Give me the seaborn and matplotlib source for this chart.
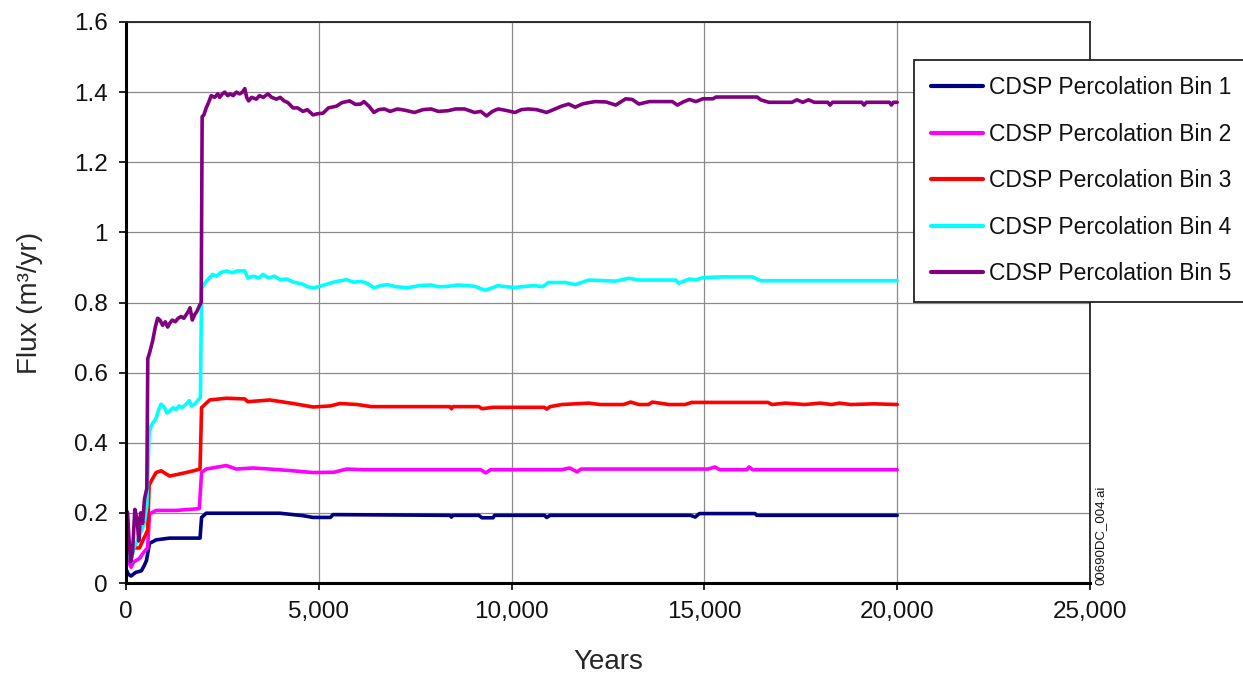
import matplotlib
matplotlib.use("Agg")
import matplotlib.pyplot as plt
from matplotlib.ticker import FuncFormatter
import pandas as pd
import seaborn as sns

# ---- data: (year, flux in m3/yr) for each percolation bin ----
series_labels = [f"CDSP Percolation Bin {i}" for i in range(1, 6)]
series_colors = ["#000080", "#FF00FF", "#FF0000", "#00FFFF", "#800080"]

bin1 = [(0, 0.04), (60, 0.025), (130, 0.02), (250, 0.03), (400, 0.035), (475, 0.05),
        (530, 0.064), (610, 0.113), (780, 0.123), (1130, 0.128), (1920, 0.128),
        (1960, 0.187), (2080, 0.199), (3990, 0.199), (4590, 0.192), (4850, 0.187),
        (5300, 0.187), (5370, 0.195), (8400, 0.193), (8440, 0.188), (8480, 0.193),
        (9150, 0.193), (9230, 0.186), (9520, 0.186), (9560, 0.193), (10850, 0.193),
        (10910, 0.187), (11000, 0.193), (14640, 0.193), (14760, 0.188), (14870, 0.198),
        (16310, 0.198), (16360, 0.193), (20000, 0.193)]

bin2 = [(0, 0.08), (70, 0.06), (130, 0.045), (200, 0.06), (350, 0.07), (475, 0.09),
        (560, 0.10), (610, 0.197), (780, 0.207), (1300, 0.207), (1900, 0.212),
        (1960, 0.315), (2080, 0.325), (2600, 0.335), (2860, 0.325), (3290, 0.328),
        (3730, 0.325), (4330, 0.32), (4850, 0.315), (5400, 0.316), (5720, 0.325),
        (6200, 0.323), (9200, 0.323), (9330, 0.314), (9450, 0.323), (11300, 0.323),
        (11500, 0.328), (11700, 0.317), (11800, 0.325), (15100, 0.325), (15270, 0.331),
        (15400, 0.323), (16100, 0.323), (16160, 0.331), (16250, 0.323), (20000, 0.323)]

bin3 = [(0, 0.11), (60, 0.09), (130, 0.07), (200, 0.10), (350, 0.10), (475, 0.13),
        (560, 0.15), (600, 0.28), (780, 0.315), (910, 0.32), (1130, 0.305),
        (1350, 0.31), (1560, 0.315), (1750, 0.32), (1920, 0.325), (1960, 0.50),
        (2170, 0.522), (2600, 0.527), (3080, 0.525), (3160, 0.517), (3730, 0.522),
        (4330, 0.512), (4850, 0.502), (5300, 0.505), (5550, 0.512), (6000, 0.509),
        (6360, 0.503), (8400, 0.503), (8440, 0.497), (8480, 0.503), (9150, 0.503),
        (9230, 0.497), (9520, 0.501), (10850, 0.501), (10910, 0.496), (11000, 0.503),
        (11300, 0.509), (12000, 0.513), (12300, 0.509), (12900, 0.509), (13090, 0.516),
        (13300, 0.509), (13550, 0.509), (13650, 0.516), (13900, 0.512), (14080, 0.509),
        (14500, 0.509), (14670, 0.515), (16650, 0.515), (16750, 0.509), (17100, 0.513),
        (17600, 0.509), (18000, 0.513), (18300, 0.509), (18500, 0.513), (18800, 0.509),
        (19400, 0.511), (20000, 0.509)]

bin4 = [(0, 0.14), (60, 0.09), (130, 0.06), (200, 0.10), (300, 0.12), (400, 0.15),
        (475, 0.17), (540, 0.22), (600, 0.43), (660, 0.45), (720, 0.46), (780, 0.47),
        (850, 0.495), (910, 0.51), (1000, 0.50), (1060, 0.485), (1130, 0.49),
        (1220, 0.50), (1300, 0.495), (1380, 0.505), (1450, 0.50), (1560, 0.51),
        (1640, 0.52), (1700, 0.505), (1780, 0.51), (1860, 0.52), (1930, 0.53),
        (1960, 0.84), (2020, 0.85), (2080, 0.86), (2160, 0.87), (2250, 0.88),
        (2350, 0.875), (2450, 0.885), (2600, 0.89), (2750, 0.885), (2900, 0.89),
        (3080, 0.89), (3160, 0.87), (3300, 0.875), (3450, 0.87), (3550, 0.88),
        (3700, 0.87), (3850, 0.875), (4000, 0.865), (4160, 0.867), (4350, 0.858),
        (4590, 0.852), (4700, 0.845), (4850, 0.842), (5000, 0.845), (5200, 0.852),
        (5450, 0.86), (5720, 0.865), (5900, 0.858), (6090, 0.86), (6250, 0.855),
        (6430, 0.842), (6600, 0.848), (6780, 0.851), (7000, 0.845), (7300, 0.842),
        (7600, 0.848), (7910, 0.85), (8100, 0.845), (8350, 0.846), (8600, 0.85),
        (8870, 0.848), (9050, 0.846), (9300, 0.835), (9450, 0.84), (9650, 0.848),
        (9850, 0.845), (10090, 0.843), (10350, 0.846), (10610, 0.848), (10800, 0.845),
        (10960, 0.857), (11400, 0.857), (11650, 0.851), (12000, 0.864), (12700, 0.861),
        (13040, 0.869), (13300, 0.864), (14260, 0.864), (14330, 0.855), (14610, 0.867),
        (14780, 0.864), (14960, 0.871), (15480, 0.873), (16240, 0.873), (16460, 0.862),
        (20000, 0.862)]

bin5 = [(0, 0.21), (40, 0.20), (80, 0.12), (120, 0.06), (170, 0.09), (230, 0.21),
        (290, 0.18), (330, 0.12), (380, 0.20), (430, 0.17), (480, 0.24), (540, 0.27),
        (565, 0.64), (620, 0.66), (690, 0.69), (760, 0.73), (820, 0.755), (880, 0.75),
        (950, 0.735), (1020, 0.745), (1080, 0.73), (1130, 0.74), (1200, 0.75),
        (1280, 0.745), (1350, 0.755), (1430, 0.76), (1500, 0.755), (1560, 0.765),
        (1620, 0.775), (1660, 0.785), (1720, 0.75), (1780, 0.765), (1840, 0.775),
        (1900, 0.79), (1950, 0.80), (1975, 1.33), (2020, 1.335), (2080, 1.355),
        (2140, 1.37), (2210, 1.39), (2300, 1.385), (2380, 1.395), (2430, 1.385),
        (2500, 1.395), (2560, 1.40), (2640, 1.39), (2700, 1.395), (2780, 1.39),
        (2860, 1.40), (2950, 1.395), (3020, 1.40), (3080, 1.41), (3130, 1.385),
        (3180, 1.375), (3260, 1.385), (3380, 1.38), (3460, 1.39), (3560, 1.385),
        (3680, 1.395), (3780, 1.385), (3900, 1.38), (4000, 1.385), (4100, 1.375),
        (4200, 1.37), (4330, 1.355), (4450, 1.355), (4590, 1.345), (4700, 1.35),
        (4850, 1.335), (4950, 1.338), (5110, 1.34), (5250, 1.355), (5460, 1.36),
        (5600, 1.37), (5800, 1.375), (5950, 1.365), (6090, 1.366), (6170, 1.373),
        (6300, 1.36), (6430, 1.342), (6550, 1.35), (6700, 1.352), (6850, 1.345),
        (7040, 1.352), (7250, 1.348), (7480, 1.342), (7700, 1.35), (7910, 1.352),
        (8100, 1.345), (8350, 1.347), (8550, 1.352), (8780, 1.352), (9040, 1.342),
        (9200, 1.345), (9350, 1.332), (9500, 1.345), (9650, 1.352), (9850, 1.348),
        (10090, 1.342), (10250, 1.35), (10430, 1.352), (10650, 1.35), (10910, 1.342),
        (11130, 1.352), (11300, 1.36), (11480, 1.366), (11650, 1.357), (11830, 1.366),
        (12000, 1.37), (12170, 1.373), (12450, 1.372), (12700, 1.363), (12960, 1.381),
        (13130, 1.379), (13300, 1.366), (13570, 1.373), (14170, 1.373), (14300, 1.363),
        (14450, 1.372), (14610, 1.379), (14780, 1.373), (14960, 1.381), (15220, 1.381),
        (15300, 1.386), (16370, 1.386), (16460, 1.378), (16670, 1.371), (17270, 1.371),
        (17400, 1.378), (17550, 1.371), (17700, 1.378), (17850, 1.371), (18200, 1.371),
        (18260, 1.363), (18320, 1.371), (19080, 1.371), (19140, 1.363), (19200, 1.371),
        (19800, 1.371), (19850, 1.363), (19900, 1.371), (20000, 1.371)]

x_ticks = [0, 5000, 10000, 15000, 20000, 25000]
y_ticks = [0, 0.2, 0.4, 0.6, 0.8, 1.0, 1.2, 1.4, 1.6]

# ---- long-form table ----
frames = []
for label, pts in zip(series_labels, [bin1, bin2, bin3, bin4, bin5]):
    years, flux = zip(*pts)
    frames.append(pd.DataFrame({"Years": years, "Flux": flux, "Series": label}))
df = pd.concat(frames, ignore_index=True)

# ---- styling ----
sns.set_style("whitegrid")
plt.rcParams["font.family"] = ["Liberation Sans", "DejaVu Sans"]
plt.rcParams["text.color"] = "#111111"

fig = plt.figure(figsize=(12.43, 6.76), dpi=100)
ax = fig.add_axes([126 / 1243, 93 / 676, 964 / 1243, 561 / 676])

sns.lineplot(data=df, x="Years", y="Flux", hue="Series", hue_order=series_labels,
             palette=series_colors, estimator=None, sort=True, linewidth=2.6,
             ax=ax, legend=True)

ax.set_xlim(0, 25000)
ax.set_ylim(0, 1.6)
ax.set_xticks(x_ticks)
ax.set_yticks(y_ticks)
ax.xaxis.set_major_formatter(FuncFormatter(lambda v, _: f"{int(v):,}"))
ax.yaxis.set_major_formatter(FuncFormatter(lambda v, _: f"{v:g}"))

ax.grid(True, color="#8a8a8a", linewidth=0.9)
ax.set_axisbelow(True)
for side in ["left", "bottom"]:
    ax.spines[side].set_color("black")
    ax.spines[side].set_linewidth(2.2)
for side in ["top", "right"]:
    ax.spines[side].set_color("#222222")
    ax.spines[side].set_linewidth(1.3)

ax.tick_params(axis="both", which="major", direction="out", length=5, width=1.2,
               color="black", labelsize=17.5, labelcolor="#111111",
               bottom=True, left=True, pad=8)

ax.set_xlabel("Years", fontsize=20)
ax.set_ylabel("Flux (m³/yr)", fontsize=20)
ax.xaxis.set_label_coords(0.5, -0.118)
ax.yaxis.set_label_coords(-0.086, 0.5)

handles, labels = ax.get_legend_handles_labels()
for h in handles:
    h.set_linewidth(3)
leg = ax.legend(handles, labels, loc="upper left", bbox_to_anchor=(914 / 1243, 1 - 60 / 676),
                bbox_transform=fig.transFigure, fontsize=16.5, frameon=True, fancybox=False,
                shadow=False, borderpad=0.72, labelspacing=1.02, handlelength=2.3,
                handletextpad=0.25, borderaxespad=0)
leg.get_frame().set_edgecolor("#222222")
leg.get_frame().set_linewidth(1.3)
leg.get_frame().set_facecolor("white")
leg.get_frame().set_alpha(1)

fig.text(1101 / 1243, 1 - 585 / 676, "00690DC_004.ai", rotation=90, ha="center",
         va="bottom", fontsize=9.5, color="#111111")

fig.savefig("out.png", dpi=100)
